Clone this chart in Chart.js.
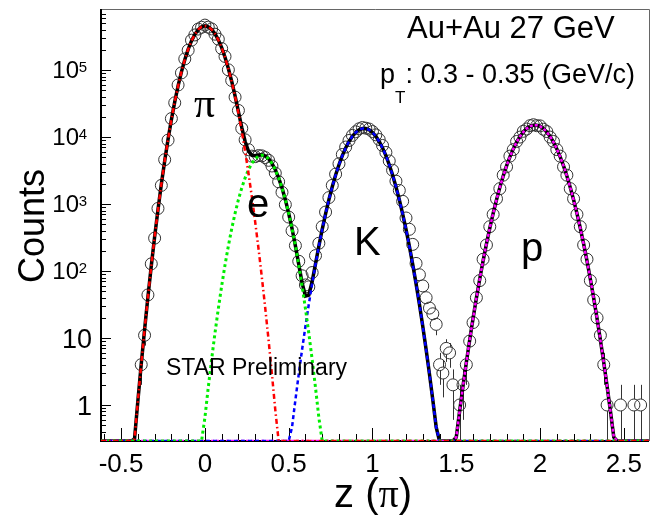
<!DOCTYPE html>
<html>
<head>
<meta charset="utf-8">
<script src="https://cdn.jsdelivr.net/npm/chart.js@4.4.1/dist/chart.umd.min.js"></script>
<style>
  html, body { margin: 0; padding: 0; background: #fff; }
  canvas { display: block; }
</style>
</head>
<body>
<canvas id="pidChart" width="664" height="527"></canvas>
<script>
// bottom of the log axis; curves below it are drawn along the axis (as ROOT does)
const F = 0.29;

const xTickValues = [-0.5, 0, 0.5, 1, 1.5, 2, 2.5];
const xTickLabels = ['-0.5', '0', '0.5', '1', '1.5', '2', '2.5'];
const yTickValues = [1, 10, 100, 1000, 10000, 100000];
const yTickBase = ['1', '10', '10', '10', '10', '10'];
const yTickExp = ['', '', '2', '3', '4', '5'];

// pion fit (red)
const piZ = [-0.62, -0.44, -0.42, -0.40, -0.38, -0.36, -0.34, -0.32, -0.30, -0.28, -0.26, -0.24, -0.22, -0.20, -0.18, -0.16, -0.14, -0.12, -0.10, -0.08, -0.06, -0.04, -0.02, 0.00,
    0.02, 0.04, 0.06, 0.08, 0.10, 0.12, 0.14, 0.16, 0.18, 0.20, 0.22, 0.24, 0.26, 0.28, 0.30, 0.32, 0.34, 0.36, 0.38, 0.40, 0.42, 0.44, 2.66];
const piY = [F, F, 0.31, 1.15, 4.04, 13.3, 41.1, 119, 324, 824, 1970, 4400, 9250, 18200, 33600, 58100, 94200, 143200, 204200, 272900, 342000, 401800, 442600, 457000,
    443600, 405500, 349100, 283100, 216300, 155600, 105400, 67300, 40500, 22900, 12220, 6140, 2900, 1294, 543, 215, 80, 28.1, 9.27, 2.88, 0.845, F, F];

// electron fit (green)
const eZ = [-0.62, -0.02, 0.00, 0.02, 0.04, 0.06, 0.08, 0.10, 0.12, 0.14, 0.16, 0.18, 0.20, 0.22, 0.24, 0.26, 0.28, 0.30, 0.32, 0.34,
    0.36, 0.38, 0.40, 0.42, 0.44, 0.46, 0.48, 0.50, 0.52, 0.54, 0.56, 0.58, 0.60, 0.62, 0.64, 0.66, 0.68, 0.70, 2.66];
const eY = [F, F, 0.647, 1.82, 4.78, 11.8, 27.4, 59.8, 123, 237, 429, 728, 1164, 1746, 2460, 3260, 4055, 4740, 5200, 5370,
    5200, 4740, 4055, 3260, 2460, 1746, 1164, 728, 429, 237, 123, 59.8, 27.4, 11.8, 4.78, 1.82, 0.647, F, F];

// kaon fit (blue)
const kZ = [-0.62, 0.50, 0.52, 0.54, 0.56, 0.58, 0.60, 0.62, 0.64, 0.66, 0.68, 0.70, 0.72, 0.74, 0.76, 0.78, 0.80, 0.82, 0.84, 0.86, 0.88, 0.90, 0.92, 0.94,
    0.96, 0.98, 1.00, 1.02, 1.04, 1.06, 1.08, 1.10, 1.12, 1.14, 1.16, 1.18, 1.20, 1.22, 1.24, 1.26, 1.28, 1.30, 1.32, 1.34, 1.36, 1.38, 1.40, 2.66];
const kY = [F, F, 0.468, 1.19, 2.89, 6.73, 15.0, 31.9, 64.9, 126, 235, 419, 715, 1165, 1817, 2710, 3870, 5280, 6890, 8600, 10280, 11740, 12830, 13420,
    13420, 12830, 11740, 10280, 8600, 6890, 5280, 3870, 2710, 1817, 1165, 715, 419, 235, 126, 64.9, 31.9, 15.0, 6.73, 2.89, 1.19, 0.468, F, F];

// proton fit (magenta)
const pZ = [-0.62, 1.48, 1.50, 1.52, 1.54, 1.56, 1.58, 1.60, 1.62, 1.64, 1.66, 1.68, 1.70, 1.72, 1.74, 1.76, 1.78, 1.80, 1.82, 1.84, 1.86, 1.88, 1.90, 1.92, 1.94, 1.96,
    1.98, 2.00, 2.02, 2.04, 2.06, 2.08, 2.10, 2.12, 2.14, 2.16, 2.18, 2.20, 2.22, 2.24, 2.26, 2.28, 2.30, 2.32, 2.34, 2.36, 2.38, 2.40, 2.42, 2.44, 2.46, 2.66];
const pY = [F, F, 0.330, 0.808, 1.90, 4.30, 9.35, 19.6, 39.4, 76.2, 142, 254, 438, 726, 1158, 1776, 2620, 3720, 5070, 6660, 8410, 10210, 11930, 13400, 14490, 15060,
    15060, 14490, 13400, 11930, 10210, 8410, 6660, 5070, 3720, 2620, 1776, 1158, 726, 438, 254, 142, 76.2, 39.4, 19.6, 9.35, 4.30, 1.90, 0.808, 0.330, F, F];

// total fit (black)
const totalZ = [-0.62, -0.44,
    -0.42, -0.40, -0.38, -0.36, -0.34, -0.32, -0.30, -0.28, -0.26, -0.24, -0.22, -0.20, -0.18, -0.16, -0.14, -0.12, -0.10, -0.08, -0.06, -0.04, -0.02, 0.00,
    0.02, 0.04, 0.06, 0.08, 0.10, 0.12, 0.14, 0.16, 0.18, 0.20, 0.22, 0.24, 0.26, 0.28, 0.30, 0.32, 0.34, 0.36, 0.38, 0.40, 0.42,
    0.44, 0.46, 0.48, 0.50, 0.52, 0.54, 0.56, 0.58, 0.60, 0.62, 0.64, 0.66, 0.68, 0.70,
    0.72, 0.74, 0.76, 0.78, 0.80, 0.82, 0.84, 0.86, 0.88, 0.90, 0.92, 0.94, 0.96, 0.98, 1.00, 1.02, 1.04, 1.06, 1.08, 1.10, 1.12, 1.14, 1.16, 1.18,
    1.20, 1.22, 1.24, 1.26, 1.28, 1.30, 1.32, 1.34, 1.36, 1.38,
    1.40, 1.48,
    1.50, 1.52, 1.54, 1.56, 1.58, 1.60, 1.62, 1.64, 1.66, 1.68, 1.70, 1.72, 1.74, 1.76, 1.78, 1.80, 1.82, 1.84, 1.86, 1.88, 1.90, 1.92, 1.94, 1.96,
    1.98, 2.00, 2.02, 2.04, 2.06, 2.08, 2.10, 2.12, 2.14, 2.16, 2.18, 2.20, 2.22, 2.24, 2.26, 2.28, 2.30, 2.32, 2.34, 2.36, 2.38, 2.40, 2.42, 2.44,
    2.46, 2.66];
const totalY = [F, F,
    0.31, 1.15, 4.04, 13.3, 41.1, 119, 324, 824, 1970, 4400, 9250, 18200, 33600, 58100, 94200, 143200, 204200, 272900, 342000, 401800, 442600, 457000,
    443600, 405500, 349100, 283100, 216400, 155700, 105600, 67730, 41230, 24060, 13970, 8600, 6160, 5350, 5283, 5415, 5450, 5228, 4750, 4058, 3261,
    2460, 1746, 1164, 728, 429, 238, 126, 66.5, 42.4, 43.7, 69.7, 128, 236, 419,
    715, 1165, 1817, 2710, 3870, 5280, 6890, 8600, 10280, 11740, 12830, 13420, 13420, 12830, 11740, 10280, 8600, 6890, 5280, 3870, 2710, 1817, 1165, 715,
    419, 235, 126, 64.9, 31.9, 15.0, 6.73, 2.89, 1.19, 0.468,
    F, F,
    0.330, 0.808, 1.90, 4.30, 9.35, 19.6, 39.4, 76.2, 142, 254, 438, 726, 1158, 1776, 2620, 3720, 5070, 6660, 8410, 10210, 11930, 13400, 14490, 15060,
    15060, 14490, 13400, 11930, 10210, 8410, 6660, 5070, 3720, 2620, 1776, 1158, 726, 438, 254, 142, 76.2, 39.4, 19.6, 9.35, 4.30, 1.90, 0.808, 0.330,
    F, F];

// measured counts (open circles); empty bins are left out
const dataZ = [-0.38, -0.36, -0.34, -0.32, -0.30, -0.28, -0.26, -0.24, -0.22, -0.20, -0.18, -0.16, -0.14, -0.12, -0.10, -0.08, -0.06, -0.04, -0.02, 0.00,
    0.02, 0.04, 0.06, 0.08, 0.10, 0.12, 0.14, 0.16, 0.18, 0.20, 0.22, 0.24, 0.26, 0.28, 0.30, 0.32, 0.34, 0.36, 0.38, 0.40,
    0.42, 0.44, 0.46, 0.48, 0.50, 0.52, 0.54, 0.56, 0.58, 0.60, 0.62, 0.64, 0.66, 0.68, 0.70, 0.72, 0.74, 0.76, 0.78, 0.80,
    0.82, 0.84, 0.86, 0.88, 0.90, 0.92, 0.94, 0.96, 0.98, 1.00, 1.02, 1.04, 1.06, 1.08, 1.10, 1.12, 1.14, 1.16, 1.18, 1.20,
    1.22, 1.24, 1.26, 1.28, 1.30, 1.32, 1.34, 1.36, 1.38, 1.40, 1.42, 1.44, 1.46, 1.48,
    1.52, 1.54, 1.56, 1.58, 1.60, 1.62, 1.64, 1.66, 1.68, 1.70, 1.72, 1.74, 1.76, 1.78, 1.80, 1.82, 1.84, 1.86, 1.88, 1.90,
    1.92, 1.94, 1.96, 1.98, 2.00, 2.02, 2.04, 2.06, 2.08, 2.10, 2.12, 2.14, 2.16, 2.18, 2.20, 2.22, 2.24, 2.26, 2.28, 2.30,
    2.32, 2.34, 2.36, 2.38, 2.40, 2.48, 2.56, 2.60];
const dataY = [4, 11, 44, 128, 310, 860, 1900, 4600, 9000, 18900, 32500, 60000, 91000, 147000, 198000, 280000, 335000, 410000, 436000, 470000,
    438000, 412000, 344000, 290000, 210000, 160000, 101000, 70000, 39500, 25000, 13500, 9100, 6500, 5200, 5100, 5300, 5250, 4950, 4500, 3700,
    2900, 2150, 1500, 980, 640, 400, 240, 140, 85, 62, 58, 95, 170, 260, 460, 760, 1250, 1900, 2800, 4000,
    5500, 7100, 8900, 10600, 12000, 13300, 13900, 13600, 13200, 12100, 10800, 9200, 7500, 5900, 4400, 3200, 2200, 1600, 1100, 620,
    420, 250, 130, 88, 60, 40, 28, 23, 16, 4, 3, 7, 6, 2,
    1, 2, 4, 9, 17, 40, 72, 150, 245, 460, 700, 1200, 1700, 2700, 3600, 5200, 6500, 8600, 10000, 12200,
    13200, 14800, 15300, 14800, 14700, 13100, 12100, 10000, 8600, 6500, 5200, 3600, 2700, 1700, 1200, 700, 460, 245, 150, 72,
    37, 20, 11, 4, 1, 1, 1, 1];

// error bars that stick out of the markers
const errZ = [-0.38, -0.36, 1.38, 1.40, 1.42, 1.44, 1.46, 1.48, 1.52, 1.54, 1.56, 2.38, 2.40, 2.48, 2.56, 2.60];
const errLo = [2, 7.7, 11, 2, 1.3, 4.4, 3.6, 0.6, F, 0.6, 2, 2, F, F, F, F];
const errHi = [6, 14.3, 20, 6, 4.7, 9.6, 8.4, 3.4, 2, 3.4, 6, 6, 2, 2, 2, 2];

const toPoints = (zs, ys) => zs.map((z, i) => ({ x: z, y: ys[i] }));

function fitLine(label, zs, ys, color, width, dash) {
    return {
        label: label,
        data: toPoints(zs, ys),
        borderColor: color,
        borderWidth: width,
        borderDash: dash,
        pointRadius: 0,
        tension: 0,
        fill: false,
    };
}

const sans = '"Liberation Sans", Arial, Helvetica, sans-serif';
const serif = '"Liberation Serif", "Times New Roman", serif';

const decor = {
    id: 'decor',
    beforeDatasetsDraw(chart) {
        const { ctx, chartArea: a, scales: { x, y } } = chart;
        ctx.save();

        // frame: thin grey top/right, black axes left/bottom
        ctx.strokeStyle = '#666';
        ctx.lineWidth = 1;
        ctx.beginPath();
        ctx.moveTo(a.left, a.top - 0.5);
        ctx.lineTo(a.right + 0.5, a.top - 0.5);
        ctx.lineTo(a.right + 0.5, a.bottom);
        ctx.stroke();

        ctx.strokeStyle = '#000';
        ctx.lineWidth = 2;
        ctx.beginPath();
        ctx.moveTo(a.left, a.top - 1);
        ctx.lineTo(a.left, a.bottom);
        ctx.lineTo(a.right, a.bottom);
        ctx.stroke();

        // ticks drawn inwards
        ctx.lineWidth = 1;
        ctx.beginPath();
        for (let i = -6; i <= 26; i++) {
            const v = i / 10;
            const px = Math.round(x.getPixelForValue(v)) + 0.5;
            const len = (i % 5 === 0) ? 13 : 7;
            ctx.moveTo(px, a.bottom);
            ctx.lineTo(px, a.bottom - len);
        }
        for (let d = -1; d <= 5; d++) {
            for (let m = 1; m <= 9; m++) {
                const v = m * Math.pow(10, d);
                if (v < F || v > 7.9e5) continue;
                const py = Math.round(y.getPixelForValue(v)) + 0.5;
                const len = (m === 1) ? 10 : 5;
                ctx.moveTo(a.left, py);
                ctx.lineTo(a.left + len, py);
            }
        }
        ctx.stroke();

        // error bars
        ctx.strokeStyle = '#333';
        ctx.lineWidth = 1;
        ctx.beginPath();
        errZ.forEach((z, i) => {
            const k = dataZ.indexOf(z);
            const px = Math.round(x.getPixelForValue(z)) + 0.5;
            const yc = y.getPixelForValue(dataY[k]);
            const yHi = y.getPixelForValue(errHi[i]);
            const yLo = errLo[i] <= F ? a.bottom : y.getPixelForValue(errLo[i]);
            if (yHi < yc - 6) { ctx.moveTo(px, yHi); ctx.lineTo(px, yc - 6); }
            if (yLo > yc + 6) { ctx.moveTo(px, yc + 6); ctx.lineTo(px, yLo); }
        });
        ctx.stroke();
        ctx.restore();
    },
    afterDraw(chart) {
        const { ctx, chartArea: a, scales: { x, y } } = chart;
        ctx.save();
        ctx.fillStyle = '#000';
        ctx.textBaseline = 'alphabetic';

        // x tick labels
        ctx.font = '26px ' + sans;
        ctx.textAlign = 'center';
        xTickValues.forEach((v, i) => {
            ctx.fillText(xTickLabels[i], x.getPixelForValue(v), 472);
        });

        // y tick labels (10^n)
        yTickValues.forEach((v, i) => {
            const py = y.getPixelForValue(v);
            if (yTickExp[i] === '') {
                ctx.font = '27px ' + sans;
                ctx.textAlign = 'right';
                ctx.fillText(yTickBase[i], 92, py + 10);
            } else {
                ctx.font = '15px ' + sans;
                ctx.textAlign = 'right';
                ctx.fillText(yTickExp[i], 87, py + 2);
                ctx.font = '24px ' + sans;
                ctx.fillText(yTickBase[i], 79, py + 8);
            }
        });

        // axis titles
        ctx.save();
        ctx.translate(44, 226);
        ctx.rotate(-Math.PI / 2);
        ctx.font = '36px ' + sans;
        ctx.textAlign = 'center';
        ctx.fillText('Counts', 0, 0);
        ctx.restore();

        ctx.textAlign = 'left';
        ctx.font = '40px ' + sans;
        const w1 = ctx.measureText('z (').width;
        const w3 = ctx.measureText(')').width;
        ctx.font = '40px ' + serif;
        const w2 = ctx.measureText('\u03c0').width;
        let tx = 373 - (w1 + w2 + w3) / 2;
        ctx.font = '40px ' + sans;
        ctx.fillText('z (', tx, 507);
        ctx.font = '40px ' + serif;
        ctx.fillText('\u03c0', tx + w1, 507);
        ctx.font = '40px ' + sans;
        ctx.fillText(')', tx + w1 + w2, 507);

        // annotations
        ctx.font = '31px ' + sans;
        ctx.fillText('Au+Au 27 GeV', 407, 38);
        ctx.font = '27px ' + sans;
        ctx.fillText('p', 380, 83);
        const pw = ctx.measureText('p').width;
        ctx.font = '17px ' + sans;
        ctx.fillText('T', 380 + pw, 103);
        const tw = ctx.measureText('T').width;
        ctx.font = '27px ' + sans;
        ctx.fillText(': 0.3 - 0.35 (GeV/c)', 380 + pw + tw, 83);

        ctx.font = '42px ' + serif;
        ctx.fillText('\u03c0', 194, 117);
        ctx.font = '40px ' + sans;
        ctx.fillText('e', 247, 217);
        ctx.fillText('K', 354, 255);
        ctx.fillText('p', 521, 261);
        ctx.font = '23px ' + sans;
        ctx.fillText('STAR Preliminary', 166, 375);
        ctx.restore();
    }
};

const ctx = document.getElementById('pidChart').getContext('2d');
const chart = new Chart(ctx, {
    type: 'line',
    data: {
        datasets: [
            fitLine('pi', piZ, piY, '#ff0000', 2.5, [5, 3, 1.5, 3]),
            fitLine('e', eZ, eY, '#00ee00', 3, [3, 3]),
            fitLine('K', kZ, kY, '#0000ff', 2.5, [4, 3]),
            fitLine('p', pZ, pY, '#ff00ff', 2.5, [3, 2]),
            fitLine('total', totalZ, totalY, '#000000', 3.5, []),
            {
                label: 'data',
                data: toPoints(dataZ, dataY),
                showLine: false,
                pointStyle: 'circle',
                pointRadius: 6,
                pointBorderWidth: 1,
                pointBorderColor: '#333',
                pointBackgroundColor: 'rgba(0,0,0,0)',
            },
        ],
    },
    options: {
        responsive: false,
        animation: false,
        layout: { padding: { left: 0, right: 15, top: 10, bottom: 0 } },
        plugins: {
            legend: { display: false },
            tooltip: { enabled: false },
        },
        scales: {
            x: {
                type: 'linear',
                min: -0.62,
                max: 2.65,
                grid: { display: false, drawTicks: false },
                border: { display: false },
                ticks: { display: false },
                afterFit: (s) => { s.height = 86; },
            },
            y: {
                type: 'logarithmic',
                min: F,
                max: 7.9e5,
                grid: { display: false, drawTicks: false },
                border: { display: false },
                ticks: { display: false },
                afterFit: (s) => { s.width = 101; },
            },
        },
    },
    plugins: [decor],
});
</script>
</body>
</html>
